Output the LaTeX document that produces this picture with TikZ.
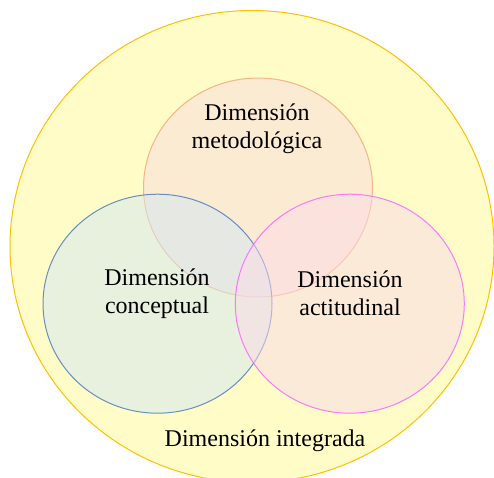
\documentclass[tikz,border=0pt]{standalone}
\usepackage{fontspec}
\setmainfont{Liberation Serif}
\usetikzlibrary{shapes.geometric}
\definecolor{outerfill}{RGB}{255,252,200}
\definecolor{outerline}{RGB}{255,192,0}
\definecolor{topfill}{RGB}{249,220,222}
\definecolor{topline}{RGB}{244,170,120}
\definecolor{leftfill}{RGB}{211,232,244}
\definecolor{leftline}{RGB}{80,125,190}
\definecolor{rightfill}{RGB}{251,218,232}
\definecolor{rightline}{RGB}{255,100,255}
\tikzset{
  ring/.style={ellipse, inner sep=0pt, line width=1pt, fill opacity=0.5, draw opacity=0.85,
    minimum width=229pt, minimum height=219pt},
  lbl/.style={font=\fontsize{24pt}{28pt}\selectfont, align=center, text=black, inner sep=0pt}
}
\begin{document}
\begin{tikzpicture}[x=1pt,y=-1pt]
\useasboundingbox (0,0) rectangle (494,477);
\clip (0,0) rectangle (494,477);
\node[ellipse, inner sep=0pt, line width=1pt, fill=outerfill, draw=outerline,
  minimum width=484pt, minimum height=472pt] (outer) at (252,246.5) {};
\node[ring, fill=topfill, draw=topline] (metod) at (258,187.5) {};
\node[ring, fill=leftfill, draw=leftline] (concep) at (157.5,303.7) {};
\node[ring, fill=rightfill, draw=rightline] (actit) at (349.8,303.7) {};
\node[lbl] (tmetod) at (257,129) {Dimensión\\metodológica};
\node[lbl] (tconcep) at (157,293.5) {Dimensión\\conceptual};
\node[lbl] (tactit) at (350,293.5) {Dimensión\\actitudinal};
\node[lbl, anchor=base] (tinteg) at (265,446.5) {Dimensión integrada};
\end{tikzpicture}
\end{document}
